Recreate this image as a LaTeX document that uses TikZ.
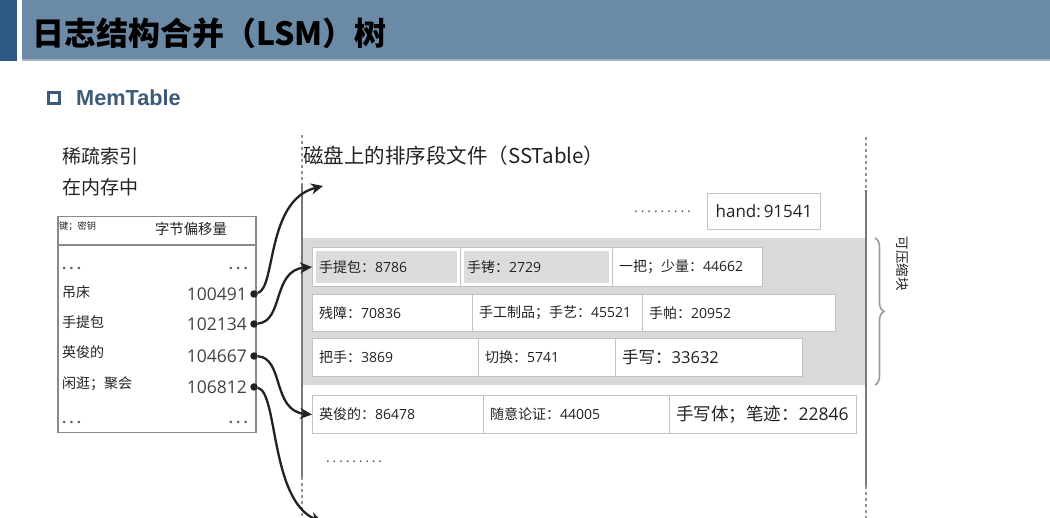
\documentclass[tikz,border=0pt]{standalone}
\usepackage{fontspec}
\setmainfont{Open Sans}
\newfontfamily\cjk{Noto Sans CJK SC}
\newfontfamily\arialf{Liberation Sans}
\usetikzlibrary{arrows.meta,decorations.pathreplacing}
\definecolor{barblue}{HTML}{6B8AA5}
\definecolor{barline}{HTML}{A3B6C7}
\definecolor{stripblue}{HTML}{2D5A85}
\definecolor{mtblue}{HTML}{3D5A78}
\definecolor{bandgray}{HTML}{D9D9D9}
\definecolor{cellborder}{HTML}{C2C2C2}
\definecolor{innergray}{HTML}{DCDCDC}
\definecolor{tblborder}{HTML}{8A8A8A}
\definecolor{vlinegray}{HTML}{7A7A7A}
\definecolor{bracegray}{HTML}{9A9A9A}
\definecolor{inkdark}{HTML}{222222}
\tikzset{
  cell/.style={draw=cellborder, line width=1pt, fill=white, anchor=north west, inner sep=0},
  celltext/.style={anchor=west, inner sep=0, text=inkdark, font=\fontsize{14}{16}\selectfont},
  lbl/.style={anchor=west, inner sep=0, text=inkdark},
  num/.style={anchor=east, inner sep=0, text=inkdark!85, font=\fontsize{17.5}{19}\selectfont},
  key/.style={anchor=west, inner sep=0, text=inkdark, font=\cjk\fontsize{14}{16}\selectfont},
  gdots/.style={inner sep=0, text=inkdark!70, font=\bfseries\fontsize{15}{16}\selectfont},
  dotnode/.style={circle, fill=inkdark, inner sep=0, minimum size=7.5pt},
  conn/.style={draw=inkdark, line width=2.3pt, -{Stealth[length=12pt, width=11pt]}},
  vsolid/.style={draw=vlinegray, line width=1.4pt},
  vdashed/.style={draw=vlinegray!80, line width=1.4pt, dash pattern=on 3pt off 3pt},
}
\newcommand\mycell[6]{%
  \node[cell, minimum width=#4, minimum height=#5] (#1) at (#2,#3) {};
  \node[celltext] (#1t) at ([xshift=7pt]#1.west) {#6};}
\newcommand\mycellg[6]{%
  \node[cell, minimum width=#4, minimum height=#5] (#1) at (#2,#3) {};
  \fill[innergray] ([shift={(4pt,-4pt)}]#1.north west) rectangle ([shift={(-4pt,4pt)}]#1.south east);
  \node[celltext] (#1t) at ([xshift=7pt]#1.west) {#6};}
\newcommand\dotrun[2]{\foreach \k in {1,...,#1}{.\hspace{#2}}}
\begin{document}
\begin{tikzpicture}[x=1pt,y=-1pt]
\useasboundingbox (0,0) rectangle (1050,518);
\fill[white] (0,0) rectangle (1050,518);
% title bar
\fill[stripblue] (0,0) rectangle (17,61);
\fill[barblue] (22,0) rectangle (1050,61);
\draw[barline, line width=2pt] (22,60) -- (1050,60);
\node[lbl, text=black, font=\cjk\bfseries\fontsize{32}{36}\selectfont] (title) at (32,33) {日志结构合并（LSM）树};
% MemTable heading
\node[draw=mtblue, line width=2.6pt, minimum size=11pt, inner sep=0] (bullet) at (54,98) {};
\node[lbl, text=mtblue, font=\arialf\bfseries\fontsize{21.7}{24}\selectfont] (memt) at (76,98) {MemTable};
% left labels
\node[lbl, font=\cjk\fontsize{19}{22}\selectfont] (sparse) at (62,156) {稀疏索引};
\node[lbl, font=\cjk\fontsize{19}{22}\selectfont] (inmem) at (62,187) {在内存中};
\node[lbl, font=\cjk\fontsize{20.5}{24}\selectfont] (disk) at (303,156) {磁盘上的排序段文件（SSTable）};
% left table
\node[draw=tblborder, line width=1.5pt, fill=white, anchor=north west, minimum width=198, minimum height=216, inner sep=0] (tbl) at (57,216) {};
\draw[draw=tblborder, line width=1.2pt] (57,245) -- (255,245);
\node[lbl, font=\cjk\fontsize{9.2}{10}\selectfont] (hkey) at (59,226) {键；密钥};
\node[inner sep=0, text=inkdark, font=\cjk\fontsize{14.4}{16}\selectfont] (hoff) at (191,229) {字节偏移量};
\node[gdots, anchor=west] (ldots1) at (62,268) {.\hspace{3pt}.\hspace{3pt}.};
\node[gdots, anchor=east] (rdots1) at (248,268) {.\hspace{3pt}.\hspace{3pt}.};
\node[gdots, anchor=west] (ldots2) at (62,422) {.\hspace{3pt}.\hspace{3pt}.};
\node[gdots, anchor=east] (rdots2) at (248,422) {.\hspace{3pt}.\hspace{3pt}.};
\node[key] (k1) at (62,292) {吊床};
\node[key] (k2) at (62,322) {手提包};
\node[key] (k3) at (62,352) {英俊的};
\node[key] (k4) at (62,384) {闲逛；聚会};
\node[num] (n1) at (247,294) {100491};
\node[num] (n2) at (247,324) {102134};
\node[num] (n3) at (247,356) {104667};
\node[num] (n4) at (247,387) {106812};
% band
\fill[bandgray] (302,238) rectangle (866,385);
% vertical lines
\draw[vdashed] (302,135) -- (302,184);
\draw[vsolid] (302,184) -- (302,477);
\draw[vdashed] (302,477) -- (302,518);
\draw[vdashed] (866,137) -- (866,190);
\draw[vsolid] (866,190) -- (866,486);
\draw[vdashed] (866,486) -- (866,518);
% top row
\node[lbl, text=inkdark!80, font=\fontsize{14}{16}\selectfont] (tdots) at (634,212) {\dotrun{9}{2.9pt}};
\node[draw=cellborder, line width=1pt, fill=white, anchor=north west, minimum width=113, minimum height=36, inner sep=0, text=inkdark, font=\fontsize{17}{19}\selectfont] (hand) at (707,193) {hand:\,91541};
% rows
\mycellg{r1a}{312}{247}{148}{39}{{\cjk 手提包：}8786}
\mycellg{r1b}{460}{247}{152}{39}{{\cjk 手铐：}2729}
\mycell{r1c}{612}{247}{150}{39}{{\cjk 一把；少量：}44662}
\mycell{r2a}{312}{294}{160}{37}{{\cjk 残障：}70836}
\mycell{r2b}{472}{294}{170}{37}{{\cjk 手工制品；手艺：}45521}
\mycell{r2c}{642}{294}{193}{37}{{\cjk 手帕：}20952}
\mycell{r3a}{312}{338}{166}{38}{{\cjk 把手：}3869}
\mycell{r3b}{478}{338}{137}{38}{{\cjk 切换：}5741}
\mycell{r3c}{615}{338}{187}{38}{\fontsize{16.5}{18}\selectfont{\cjk 手写：}33632}
\mycell{r4a}{312}{395}{171}{38}{{\cjk 英俊的：}86478}
\mycell{r4b}{483}{395}{186}{38}{{\cjk 随意论证：}44005}
\mycell{r4c}{669}{395}{187}{38}{\fontsize{17.5}{19}\selectfont{\cjk 手写体；笔迹：}22846}
\node[lbl, text=inkdark!80, font=\fontsize{14}{16}\selectfont] (bdots) at (326,462) {\dotrun{9}{2.8pt}};
% brace
\draw[bracegray, line width=1.6pt, decorate, decoration={brace, amplitude=9pt}] (875,238) -- (875,385);
\node[inner sep=0, rotate=-90, text=inkdark, font=\cjk\fontsize{13.5}{15}\selectfont] (compress) at (903,264) {可压缩块};
% dots and arrows
\node[dotnode] (d1) at (254,294) {};
\node[dotnode] (d2) at (254,324) {};
\node[dotnode] (d3) at (254,356) {};
\node[dotnode] (d4) at (254,387) {};
\coordinate (t1) at (323,186);
\coordinate (t4) at (322,522);
\draw[conn] (d1) .. controls (276,288) and (266,200) .. (t1);
\draw[conn] (d2) .. controls (284,321) and (272,270) .. (r1a.west);
\draw[conn] (d3) .. controls (284,358) and (272,411) .. (r4a.west);
\draw[conn] (d4) .. controls (278,392) and (270,500) .. (t4);
\end{tikzpicture}
\end{document}
